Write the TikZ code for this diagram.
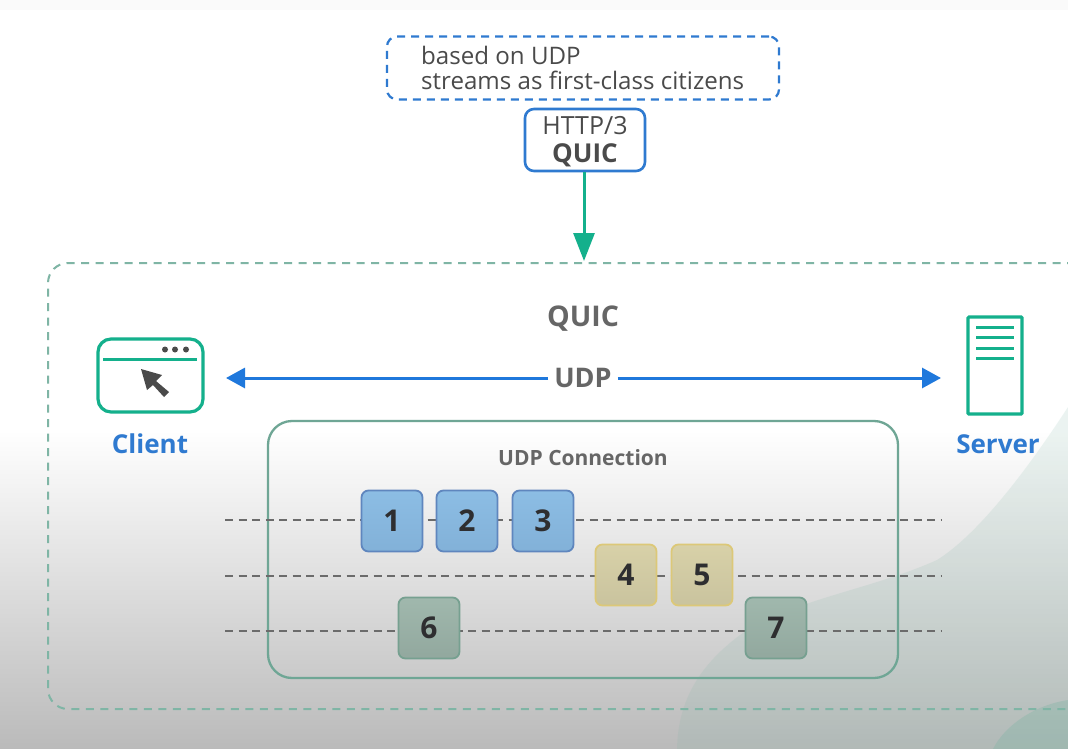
\documentclass[tikz,border=0pt]{standalone}
\usepackage{fontspec}
\setmainfont{Open Sans}
\usetikzlibrary{arrows.meta,calc}
\definecolor{ink}{HTML}{4A4A4A}
\definecolor{bluec}{HTML}{2F7AD0}
\definecolor{arrowblue}{HTML}{1F78DC}
\definecolor{teal}{HTML}{14B08C}
\definecolor{paleteal}{HTML}{7FB5A5}
\definecolor{boxteal}{HTML}{6FA695}
\definecolor{dig}{HTML}{2E2E30}
\definecolor{HTMLbluebd}{HTML}{5F86BE}
\definecolor{HTMLbluet}{HTML}{8CBDE4}
\definecolor{HTMLblueb}{HTML}{82B1D8}
\definecolor{HTMLyelbd}{HTML}{DCC878}
\definecolor{HTMLyelt}{HTML}{D8D1A8}
\definecolor{HTMLyelb}{HTML}{C9C39E}
\definecolor{HTMLgrnbd}{HTML}{76A090}
\definecolor{HTMLgrnt}{HTML}{A0B8AD}
\definecolor{HTMLgrnb}{HTML}{92A89E}
\tikzset{
  pkt/.style={draw,rounded corners=7pt,line width=1.8pt,minimum width=61pt,minimum height=61pt,inner sep=0pt,font=\fontsize{30}{30}\selectfont\bfseries,text=dig},
  bp/.style={pkt,draw=HTMLbluebd,top color=HTMLbluet,bottom color=HTMLblueb},
  yp/.style={pkt,draw=HTMLyelbd,top color=HTMLyelt,bottom color=HTMLyelb},
  gp/.style={pkt,draw=HTMLgrnbd,top color=HTMLgrnt,bottom color=HTMLgrnb},
  flow/.style={draw=black!58,line width=2pt,dash pattern=on 8pt off 5.5pt},
}
\begin{document}
\begin{tikzpicture}[x=1pt,y=-1pt]
\useasboundingbox (0,0) rectangle (1068,749);
\fill[white] (0,0) rectangle (1068,749);
\fill[black!2] (0,0) rectangle (1068,10);
\fill[top color=white,bottom color=black!27] (0,430) rectangle (1068,749);
\fill[paleteal,opacity=.15] (677,749) .. controls (678,700) and (700,665) .. (740,635) .. controls (790,600) and (870,590) .. (937,560) .. controls (985,530) and (1040,450) .. (1068,407) -- (1068,749) -- cycle;
\fill[paleteal,opacity=.35] (993,749) .. controls (1005,725) and (1035,705) .. (1068,700) -- (1068,749) -- cycle;
\node[draw=bluec,line width=2.2pt,dash pattern=on 8pt off 6pt,rounded corners=10pt,minimum width=392pt,minimum height=63pt,inner sep=0pt] (note) at (583,68) {};
\node[anchor=west,align=left,text=ink,font=\fontsize{24.1}{25.5}\selectfont,inner sep=0pt] (notetext) at (421,68) {based on UDP\\streams as first-class citizens};
\node[draw=bluec,line width=2.6pt,rounded corners=9pt,minimum width=120pt,minimum height=62pt,inner sep=0pt,fill=white] (http) at (585,140) {};
\node[align=center,text=ink,font=\fontsize{25}{28}\selectfont,inner sep=0pt] (httptext) at (585,142) {HTTP/3\\\fontsize{26}{28}\selectfont\textbf{QUIC}};
\draw[paleteal,line width=2pt,dash pattern=on 8pt off 6.5pt,rounded corners=20pt] (1075,263) -- (48,263) -- (48,709) -- (1075,709);
\coordinate (top) at (584,261);
\draw[teal,line width=3pt,-{Triangle[length=28pt,width=21pt]}] (http.south -| top) -- (top);
\node[text=black!60,font=\fontsize{28.5}{28}\selectfont\bfseries] (quic) at (583,319) {QUIC};
\node[text=black!60,font=\fontsize{27}{27}\selectfont\bfseries,inner sep=0pt] (udp) at (583,378) {UDP};
\coordinate (cl) at (226,378); \coordinate (sr) at (941,378);
\draw[arrowblue,line width=3pt,-{Triangle[length=19pt,width=20pt]}] (udp.west) ++(-6,0) -- (cl);
\draw[arrowblue,line width=3pt,-{Triangle[length=19pt,width=20pt]}] (udp.east) ++(6,0) -- (sr);
% client icon
\draw[teal,line width=3.2pt,rounded corners=13pt] (98,339) rectangle (203,412);
\draw[teal,line width=3pt] (103,359) -- (197,359);
\foreach \x in {165,175,186} \fill[ink] (\x,349.5) circle (3pt);
\fill[ink] (141,369) -- (162,375) -- (156,381) -- (169,392) -- (164,397) -- (153,385) -- (147,390) -- cycle;
\node[text=bluec,font=\fontsize{26}{26}\selectfont\bfseries] (client) at (150,444) {Client};
% server icon
\draw[teal,line width=3.2pt,rounded corners=1pt] (968,317) rectangle (1022,414);
\foreach \y in {327,337.5,348,358.5} \draw[teal,line width=3pt] (976,\y) -- (1014,\y);
\node[text=bluec,font=\fontsize{26}{26}\selectfont\bfseries] (server) at (998,444) {Server};
% connection
\draw[draw=boxteal,line width=2.3pt,rounded corners=24pt] (268,421) rectangle (898,678);
\node[text=black!60,font=\fontsize{21}{21}\selectfont\bfseries] (conn) at (583,458) {UDP Connection};
\coordinate (la) at (225,519.5); \coordinate (ra) at (942,519.5);
\coordinate (lb) at (225,576); \coordinate (rb) at (942,576);
\coordinate (lc) at (225,630.5); \coordinate (rc) at (942,630.5);
\draw[flow] (la) -- (ra);
\draw[flow] (lb) -- (rb);
\draw[flow] (lc) -- (rc);
\node[bp] (p1) at (392,521) {1};
\node[bp] (p2) at (467,521) {2};
\node[bp] (p3) at (543,521) {3};
\node[yp] (p4) at (626,575) {4};
\node[yp] (p5) at (702,575) {5};
\node[gp] (p6) at (429,628) {6};
\node[gp] (p7) at (776,628) {7};
\end{tikzpicture}
\end{document}
